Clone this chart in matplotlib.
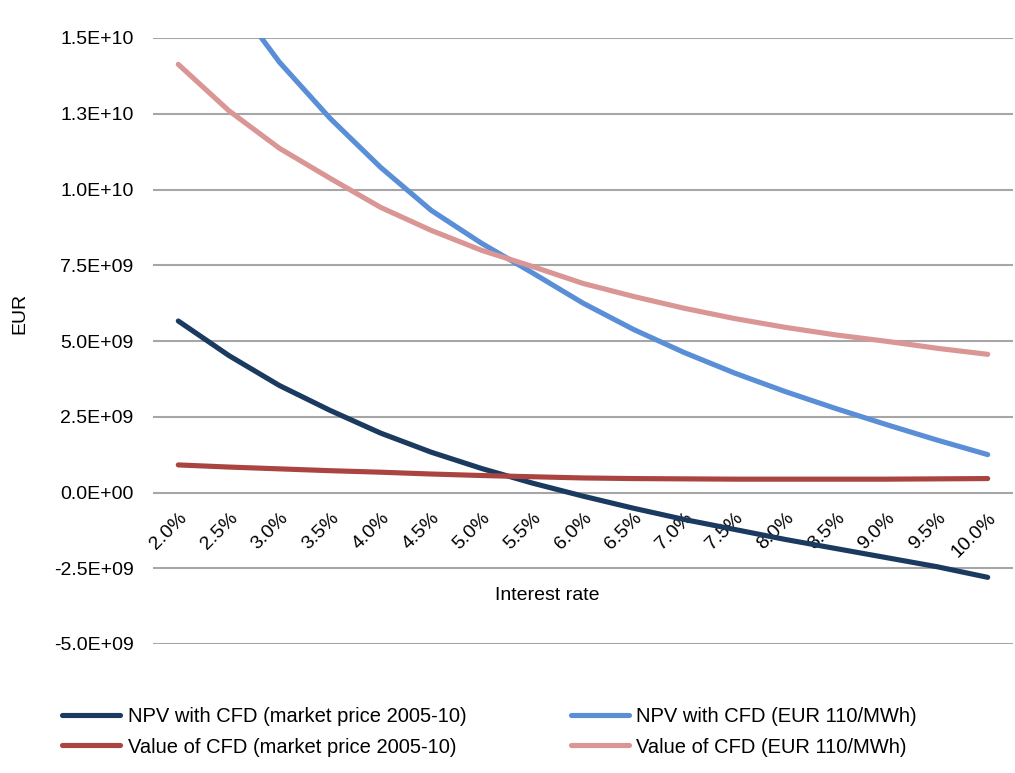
import matplotlib
matplotlib.use("Agg")
import matplotlib.pyplot as plt

plt.rcParams['font.family'] = ['Liberation Sans', 'DejaVu Sans']

rates = ["2.0%", "2.5%", "3.0%", "3.5%", "4.0%", "4.5%", "5.0%", "5.5%", "6.0%",
         "6.5%", "7.0%", "7.5%", "8.0%", "8.5%", "9.0%", "9.5%", "10.0%"]

npv_market = [5.66e9, 4.52e9, 3.53e9, 2.71e9, 1.96e9, 1.33e9, 0.79e9, 0.31e9, -0.12e9,
              -0.52e9, -0.89e9, -1.22e9, -1.55e9, -1.85e9, -2.15e9, -2.45e9, -2.80e9]
npv_110 = [18.9e9, 16.45e9, 14.2e9, 12.35e9, 10.73e9, 9.31e9, 8.22e9, 7.25e9, 6.25e9,
           5.38e9, 4.62e9, 3.94e9, 3.33e9, 2.77e9, 2.24e9, 1.73e9, 1.25e9]
value_market = [0.91e9, 0.84e9, 0.78e9, 0.72e9, 0.67e9, 0.61e9, 0.56e9, 0.52e9, 0.48e9,
                0.46e9, 0.45e9, 0.44e9, 0.44e9, 0.44e9, 0.44e9, 0.45e9, 0.46e9]
value_110 = [14.13e9, 12.6e9, 11.36e9, 10.37e9, 9.41e9, 8.65e9, 7.99e9, 7.46e9, 6.90e9,
             6.47e9, 6.08e9, 5.74e9, 5.45e9, 5.20e9, 4.99e9, 4.76e9, 4.56e9]

yticks = [-5e9, -2.5e9, 0, 2.5e9, 5e9, 7.5e9, 10e9, 12.5e9, 15e9]
ytick_labels = ["-5.0E+09", "-2.5E+09", "0.0E+00", "2.5E+09", "5.0E+09", "7.5E+09",
                "1.0E+10", "1.3E+10", "1.5E+10"]

W, H = 1015, 773
fig = plt.figure(figsize=(W / 100, H / 100), dpi=100)
ax = fig.add_axes([153 / W, 1 - 644 / H, (1013 - 153) / W, (644 - 38) / H])

x = list(range(len(rates)))
lw = 3.7
l1, = ax.plot(x, npv_market, color='#1B3A60', lw=lw, solid_capstyle='round', label='NPV with CFD (market price 2005-10)', zorder=3)
l2, = ax.plot(x, npv_110, color='#5A8FD8', lw=lw, solid_capstyle='round', label='NPV with CFD (EUR 110/MWh)', zorder=3)
l3, = ax.plot(x, value_market, color='#A94441', lw=lw, solid_capstyle='round', label='Value of CFD (market price 2005-10)', zorder=3)
l4, = ax.plot(x, value_110, color='#D99694', lw=lw, solid_capstyle='round', label='Value of CFD (EUR 110/MWh)', zorder=3)

ax.set_xlim(-0.5, len(rates) - 0.5)
ax.set_ylim(-5e9, 15e9)
ax.set_yticks(yticks)
ax.set_yticklabels(ytick_labels, fontsize=14)
ax.yaxis.grid(True, color='#A6A6A6', lw=1.5)
ax.set_axisbelow(True)
for s in ['top', 'right', 'left']:
    ax.spines[s].set_visible(False)
ax.spines['bottom'].set_position(('data', 0))
ax.spines['bottom'].set_visible(False)
ax.tick_params(axis='y', length=0, pad=14)
ax.set_xticks(x)
ax.set_xticklabels(rates, fontsize=14, rotation=45, ha='right', rotation_mode='anchor')
ax.tick_params(axis='x', length=0, pad=12)

fig.text(547 / W, 1 - 595 / H, 'Interest rate', fontsize=14, ha='center', va='center')
fig.text(20 / W, 1 - 313 / H, 'EUR', fontsize=14, ha='center', va='center', rotation=90)

fig.legend(handles=[l1, l3, l2, l4], loc='center left', bbox_to_anchor=(52 / W, 1 - 732 / H),
           ncol=2, frameon=False, fontsize=14.5, handlelength=2.9, handletextpad=0.35,
           columnspacing=5.2, labelspacing=0.55, borderpad=0)

fig.savefig('out.png', dpi=100)
